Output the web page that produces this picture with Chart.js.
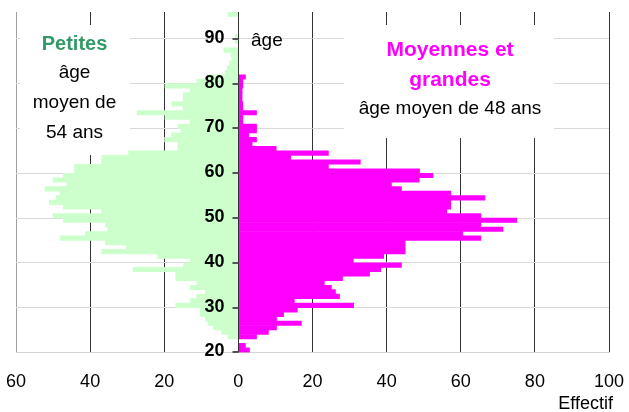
<!DOCTYPE html>
<html>
<head>
<meta charset="utf-8">
<script src="https://cdn.jsdelivr.net/npm/chart.js@4.4.1/dist/chart.umd.min.js"></script>
<style>
  html, body { margin: 0; padding: 0; background: #fff; }
</style>
</head>
<body>
<canvas id="pyramide" width="629" height="412"></canvas>
<script>
// ages (one bar per year, bar spans age .. age+1)
var ages = [20, 21, 22, 23, 24, 25, 26, 27, 28, 29,
            30, 31, 32, 33, 34, 35, 36, 37, 38, 39,
            40, 41, 42, 43, 44, 45, 46, 47, 48, 49,
            50, 51, 52, 53, 54, 55, 56, 57, 58, 59,
            60, 61, 62, 63, 64, 65, 66, 67, 68, 69,
            70, 71, 72, 73, 74, 75, 76, 77, 78, 79,
            80, 81, 82, 83, 84, 85, 86, 87, 88, 89,
            90, 91, 92, 93, 94, 95];

// Petites (drawn on the left)
var petites = [0, 0, 0, 2.8, 4.5, 6.8, 8.2, 8.9, 10.3, 10.3,
               16.9, 13, 11.2, 8.9, 13, 11.2, 16.9, 16.9, 28.4, 14.8,
               13, 21.8, 36.9, 30.2, 35.9, 48, 41.2, 35.3, 35.9, 47.2,
               50, 36.9, 47.2, 51, 49.2, 48.2, 52.2, 46.3, 50, 47.2,
               44.2, 44.2, 36.9, 36.9, 29.6, 16.3, 16.3, 19.9, 18, 15.5,
               16.3, 13, 19.8, 27.3, 14.9, 18, 14.9, 14.9, 13, 19.8,
               11.2, 8.2, 3.6, 3, 2.4, 1.8, 2, 3.9, 0, 0.9,
               0.9, 0, 0, 0, 0, 2.8];

// Moyennes et grandes (drawn on the right)
var moyennes = [3, 1.9, 0, 4.9, 8.1, 10.3, 17, 10.3, 12.2, 15.9,
                31.1, 15.1, 27.3, 26.2, 25.1, 23.2, 28.1, 35.4, 38.4, 44,
                31, 39.2, 45, 45, 45, 65.4, 60.5, 71.4, 65.4, 75.1,
                65.4, 56.2, 57.3, 57.3, 66.5, 57.3, 44, 41.3, 48.8, 52.5,
                48.9, 24.3, 32.9, 14.1, 24.3, 10.2, 3.7, 4.9, 2.8, 4.9,
                4.9, 1.2, 1.2, 4.9, 1.2, 1.2, 1, 1, 1, 1.2,
                1.2, 1.9, 0, 0, 0, 0, 0, 0, 0, 0,
                0, 0, 0, 0, 0, 0];

var xTicks = [-60, -40, -20, 0, 20, 40, 60, 80, 100];
var yTicks = [20, 30, 40, 50, 60, 70, 80, 90];

var FONT = "'Liberation Sans', Arial, sans-serif";
Chart.defaults.font.family = FONT;
Chart.defaults.color = '#000';

function points(values, sign) {
  return ages.map(function(a, i) { return {x: sign * values[i], y: a + 0.5}; });
}

// text boxes drawn over the grid, under the bars
var notes = {
  id: 'notes',
  beforeDatasetsDraw: function(chart) {
    var ctx = chart.ctx;
    ctx.save();
    ctx.fillStyle = '#fff';
    ctx.fillRect(20, 25, 110, 130);
    ctx.fillRect(344, 25, 210, 113);

    ctx.textAlign = 'center';
    ctx.textBaseline = 'alphabetic';
    ctx.font = 'bold 20px ' + FONT;
    ctx.fillStyle = '#339966';
    ctx.fillText('Petites', 74.5, 50);
    ctx.font = '19px ' + FONT;
    ctx.fillStyle = '#000';
    ctx.fillText('âge', 74.5, 78);
    ctx.fillText('moyen de', 74.5, 108);
    ctx.fillText('54 ans', 74.5, 138);

    ctx.font = 'bold 21px ' + FONT;
    ctx.fillStyle = '#ff00ff';
    ctx.fillText('Moyennes et', 450, 56);
    ctx.fillText('grandes', 450, 86);
    ctx.font = '19px ' + FONT;
    ctx.fillStyle = '#000';
    ctx.fillText('âge moyen de 48 ans', 450, 114);

    ctx.textAlign = 'left';
    ctx.fillText('âge', 251, 46);
    ctx.restore();
  },
  afterDatasetsDraw: function(chart) {
    var ctx = chart.ctx;
    var y = chart.scales.y;
    var x0 = Math.round(chart.scales.x.getPixelForValue(0)) + 0.5;
    ctx.save();
    // centre axis with its tick marks
    ctx.strokeStyle = '#333';
    ctx.lineWidth = 1;
    ctx.beginPath();
    ctx.moveTo(x0, chart.chartArea.top);
    ctx.lineTo(x0, chart.chartArea.bottom);
    ctx.stroke();
    ctx.strokeStyle = '#555';
    ctx.lineWidth = 2;
    ctx.beginPath();
    yTicks.forEach(function(v) {
      var py = Math.round(y.getPixelForValue(v));
      ctx.moveTo(x0 - 6, py);
      ctx.lineTo(x0, py);
    });
    ctx.stroke();
    // age labels along the centre axis
    ctx.font = 'bold 18px ' + FONT;
    ctx.fillStyle = '#000';
    ctx.textAlign = 'right';
    ctx.textBaseline = 'middle';
    yTicks.forEach(function(v) {
      ctx.fillText(String(v), x0 - 14, y.getPixelForValue(v) - 1);
    });
    ctx.restore();
  },
  afterDraw: function(chart) {
    var ctx = chart.ctx;
    ctx.save();
    ctx.font = '18px ' + FONT;
    ctx.fillStyle = '#000';
    ctx.textAlign = 'right';
    ctx.fillText('Effectif', 613, 409);
    ctx.restore();
  }
};

new Chart(document.getElementById('pyramide'), {
  type: 'bar',
  data: {
    datasets: [
      {
        label: 'Petites',
        data: points(petites, -1),
        backgroundColor: '#ccffcc',
        borderWidth: 0,
        grouped: false,
        barPercentage: 1,
        categoryPercentage: 1
      },
      {
        label: 'Moyennes et grandes',
        data: points(moyennes, 1),
        backgroundColor: '#ff00ff',
        borderWidth: 0,
        grouped: false,
        barPercentage: 1,
        categoryPercentage: 1
      }
    ]
  },
  options: {
    indexAxis: 'y',
    responsive: false,
    animation: false,
    layout: {padding: {left: 16, right: 20, top: 12, bottom: 0}},
    plugins: {legend: {display: false}, tooltip: {enabled: false}},
    scales: {
      x: {
        type: 'linear',
        min: -60,
        max: 100,
        afterBuildTicks: function(scale) {
          scale.ticks = xTicks.map(function(v) { return {value: v}; });
        },
        afterFit: function(scale) {
          scale.paddingLeft = 0;
          scale.paddingRight = 0;
        },
        ticks: {
          font: {size: 18},
          padding: 19,
          callback: function(v) { return Math.abs(v); }
        },
        grid: {
          color: function(c) { return c.tick && c.tick.value === -60 ? '#a0a0a0' : '#333'; },
          drawTicks: false
        },
        border: {color: '#d4d4d4'}
      },
      y: {
        type: 'linear',
        position: 'left',
        min: 20,
        max: 96,
        offset: false,
        afterBuildTicks: function(scale) {
          scale.ticks = yTicks.map(function(v) { return {value: v}; });
        },
        afterFit: function(scale) {
          scale.width = 0;
          scale.paddingTop = 0;
          scale.paddingBottom = 0;
        },
        ticks: {display: false},
        grid: {
          color: '#d9d9d9',
          offset: false,
          drawTicks: false
        },
        border: {display: false}
      }
    }
  },
  plugins: [notes]
});
</script>
</body>
</html>
